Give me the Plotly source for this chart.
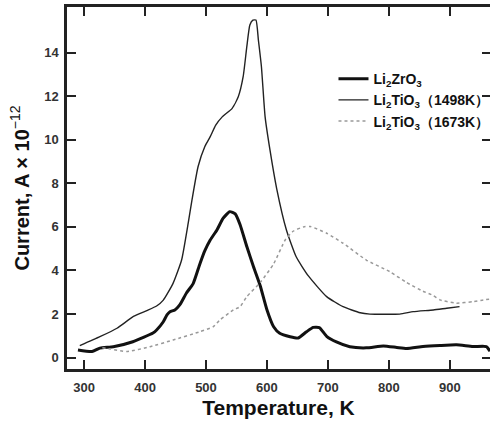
import plotly.graph_objects as go

# Li2ZrO3 (thick)
T_zr = [290, 313, 326, 348, 380, 413, 419, 430, 436, 441, 449, 457, 468, 479, 490, 498, 507, 518, 528, 539,
        548, 556, 567, 578, 589, 600, 611, 621, 638, 651, 665, 676, 686, 698, 714, 736, 763, 791, 813, 829,
        856, 884, 911, 938, 960, 966]
I_zr = [0.35, 0.28, 0.44, 0.50, 0.73, 1.13, 1.27, 1.65, 1.96, 2.11, 2.19, 2.42, 2.97, 3.40, 4.30, 4.90, 5.40, 5.86, 6.39, 6.70,
        6.60, 6.10, 5.10, 4.17, 3.30, 2.20, 1.42, 1.12, 0.96, 0.90, 1.19, 1.39, 1.38, 0.98, 0.72, 0.50, 0.45, 0.54, 0.47, 0.42,
        0.51, 0.56, 0.59, 0.51, 0.51, 0.30]

# Li2TiO3 (1498K) (thin)
T_ti1 = [293, 326, 354, 381, 403, 419, 430, 446, 460, 471, 477, 487, 498, 507, 516, 527, 543, 553, 561, 567,
         572, 577, 582, 586, 591, 597, 605, 616, 632, 648, 668, 698, 725, 753, 769, 818, 840, 873, 895, 916]
I_ti1 = [0.55, 0.96, 1.35, 1.89, 2.16, 2.37, 2.64, 3.41, 4.48, 6.20, 7.23, 8.76, 9.68, 10.14, 10.67, 11.06, 11.44, 11.97, 12.89, 14.27,
         15.26, 15.49, 15.49, 14.57, 13.35, 11.06, 9.53, 7.76, 5.86, 4.63, 3.75, 2.80, 2.34, 2.06, 2.00, 2.00, 2.11, 2.19, 2.27, 2.34]

# Li2TiO3 (1673K) (dotted)
T_ti2 = [330, 343, 370, 408, 446, 490, 512, 523, 545, 556, 567, 589, 611, 630, 643, 660, 671, 698, 725, 763,
         802, 829, 856, 873, 884, 911, 938, 955, 966]
I_ti2 = [0.45, 0.40, 0.28, 0.50, 0.81, 1.19, 1.42, 1.73, 2.19, 2.34, 2.80, 3.45, 4.30, 5.40, 5.80, 6.00, 6.02, 5.71, 5.25, 4.48,
         3.94, 3.45, 3.05, 2.85, 2.65, 2.50, 2.57, 2.65, 2.68]

x_ticks = [300, 400, 500, 600, 700, 800, 900]
y_ticks = [0, 2, 4, 6, 8, 10, 12, 14]

names = ["Li<sub>2</sub>ZrO<sub>3</sub>",
         "Li<sub>2</sub>TiO<sub>3</sub>（1498K）",
         "Li<sub>2</sub>TiO<sub>3</sub>（1673K）"]

FONT = "Liberation Sans, Arial, sans-serif"

fig = go.Figure()
fig.add_trace(go.Scatter(x=T_zr, y=I_zr, mode="lines", name=names[0],
                         line=dict(color="#111111", width=3, shape="spline", smoothing=0.5)))
fig.add_trace(go.Scatter(x=T_ti1, y=I_ti1, mode="lines", name=names[1],
                         line=dict(color="#222222", width=1.4, shape="spline", smoothing=0.5)))
fig.add_trace(go.Scatter(x=T_ti2, y=I_ti2, mode="lines", name=names[2],
                         line=dict(color="#999999", width=1.5, dash="dot", shape="spline", smoothing=0.5)))
# invisible trace to carry right-side ticks
fig.add_trace(go.Scatter(x=[T_zr[0]], y=[I_zr[0]], yaxis="y2", mode="lines",
                         showlegend=False, hoverinfo="skip", line=dict(width=0)))

fig.update_layout(
    width=490, height=422,
    margin=dict(l=67, r=0, t=7, b=53, autoexpand=False),
    paper_bgcolor="white", plot_bgcolor="white",
    font=dict(family=FONT, color="#222"),
    xaxis=dict(range=[272, 966], tickvals=x_ticks, ticks="inside", ticklen=9, tickwidth=1.5,
               tickcolor="#222", showline=True, linewidth=2.5, linecolor="#222", mirror="ticks",
               showgrid=False, zeroline=False, ticklabelstandoff=5,
               tickfont=dict(size=13, family=FONT, color="#333", weight="bold"),
               title=dict(text="<b>Temperature, K</b>", font=dict(size=21, family=FONT, color="#111"),
                          standoff=6)),
    yaxis=dict(range=[-0.52, 16.09], tickvals=y_ticks, ticks="inside", ticklen=9, tickwidth=1.5,
               tickcolor="#222", showline=True, linewidth=2.5, linecolor="#222",
               showgrid=False, zeroline=False, ticklabelstandoff=3,
               tickfont=dict(size=13, family=FONT, color="#333", weight="bold"),
               title=dict(text="<b>Current, A × 10</b><sup>−12</sup>",
                          font=dict(size=20, family=FONT, color="#111"), standoff=10)),
    yaxis2=dict(overlaying="y", side="right", matches="y", tickvals=y_ticks, ticks="inside",
                ticklen=8, tickwidth=1.5, tickcolor="#222", showticklabels=False,
                showline=False, showgrid=False, zeroline=False),
    legend=dict(x=0.63, y=0.845, xanchor="left", yanchor="top", bgcolor="rgba(0,0,0,0)",
                font=dict(size=14, family=FONT, color="#111", weight="bold"),
                itemwidth=30, tracegroupgap=0),
    showlegend=True,
)

fig.write_html("out.html")
